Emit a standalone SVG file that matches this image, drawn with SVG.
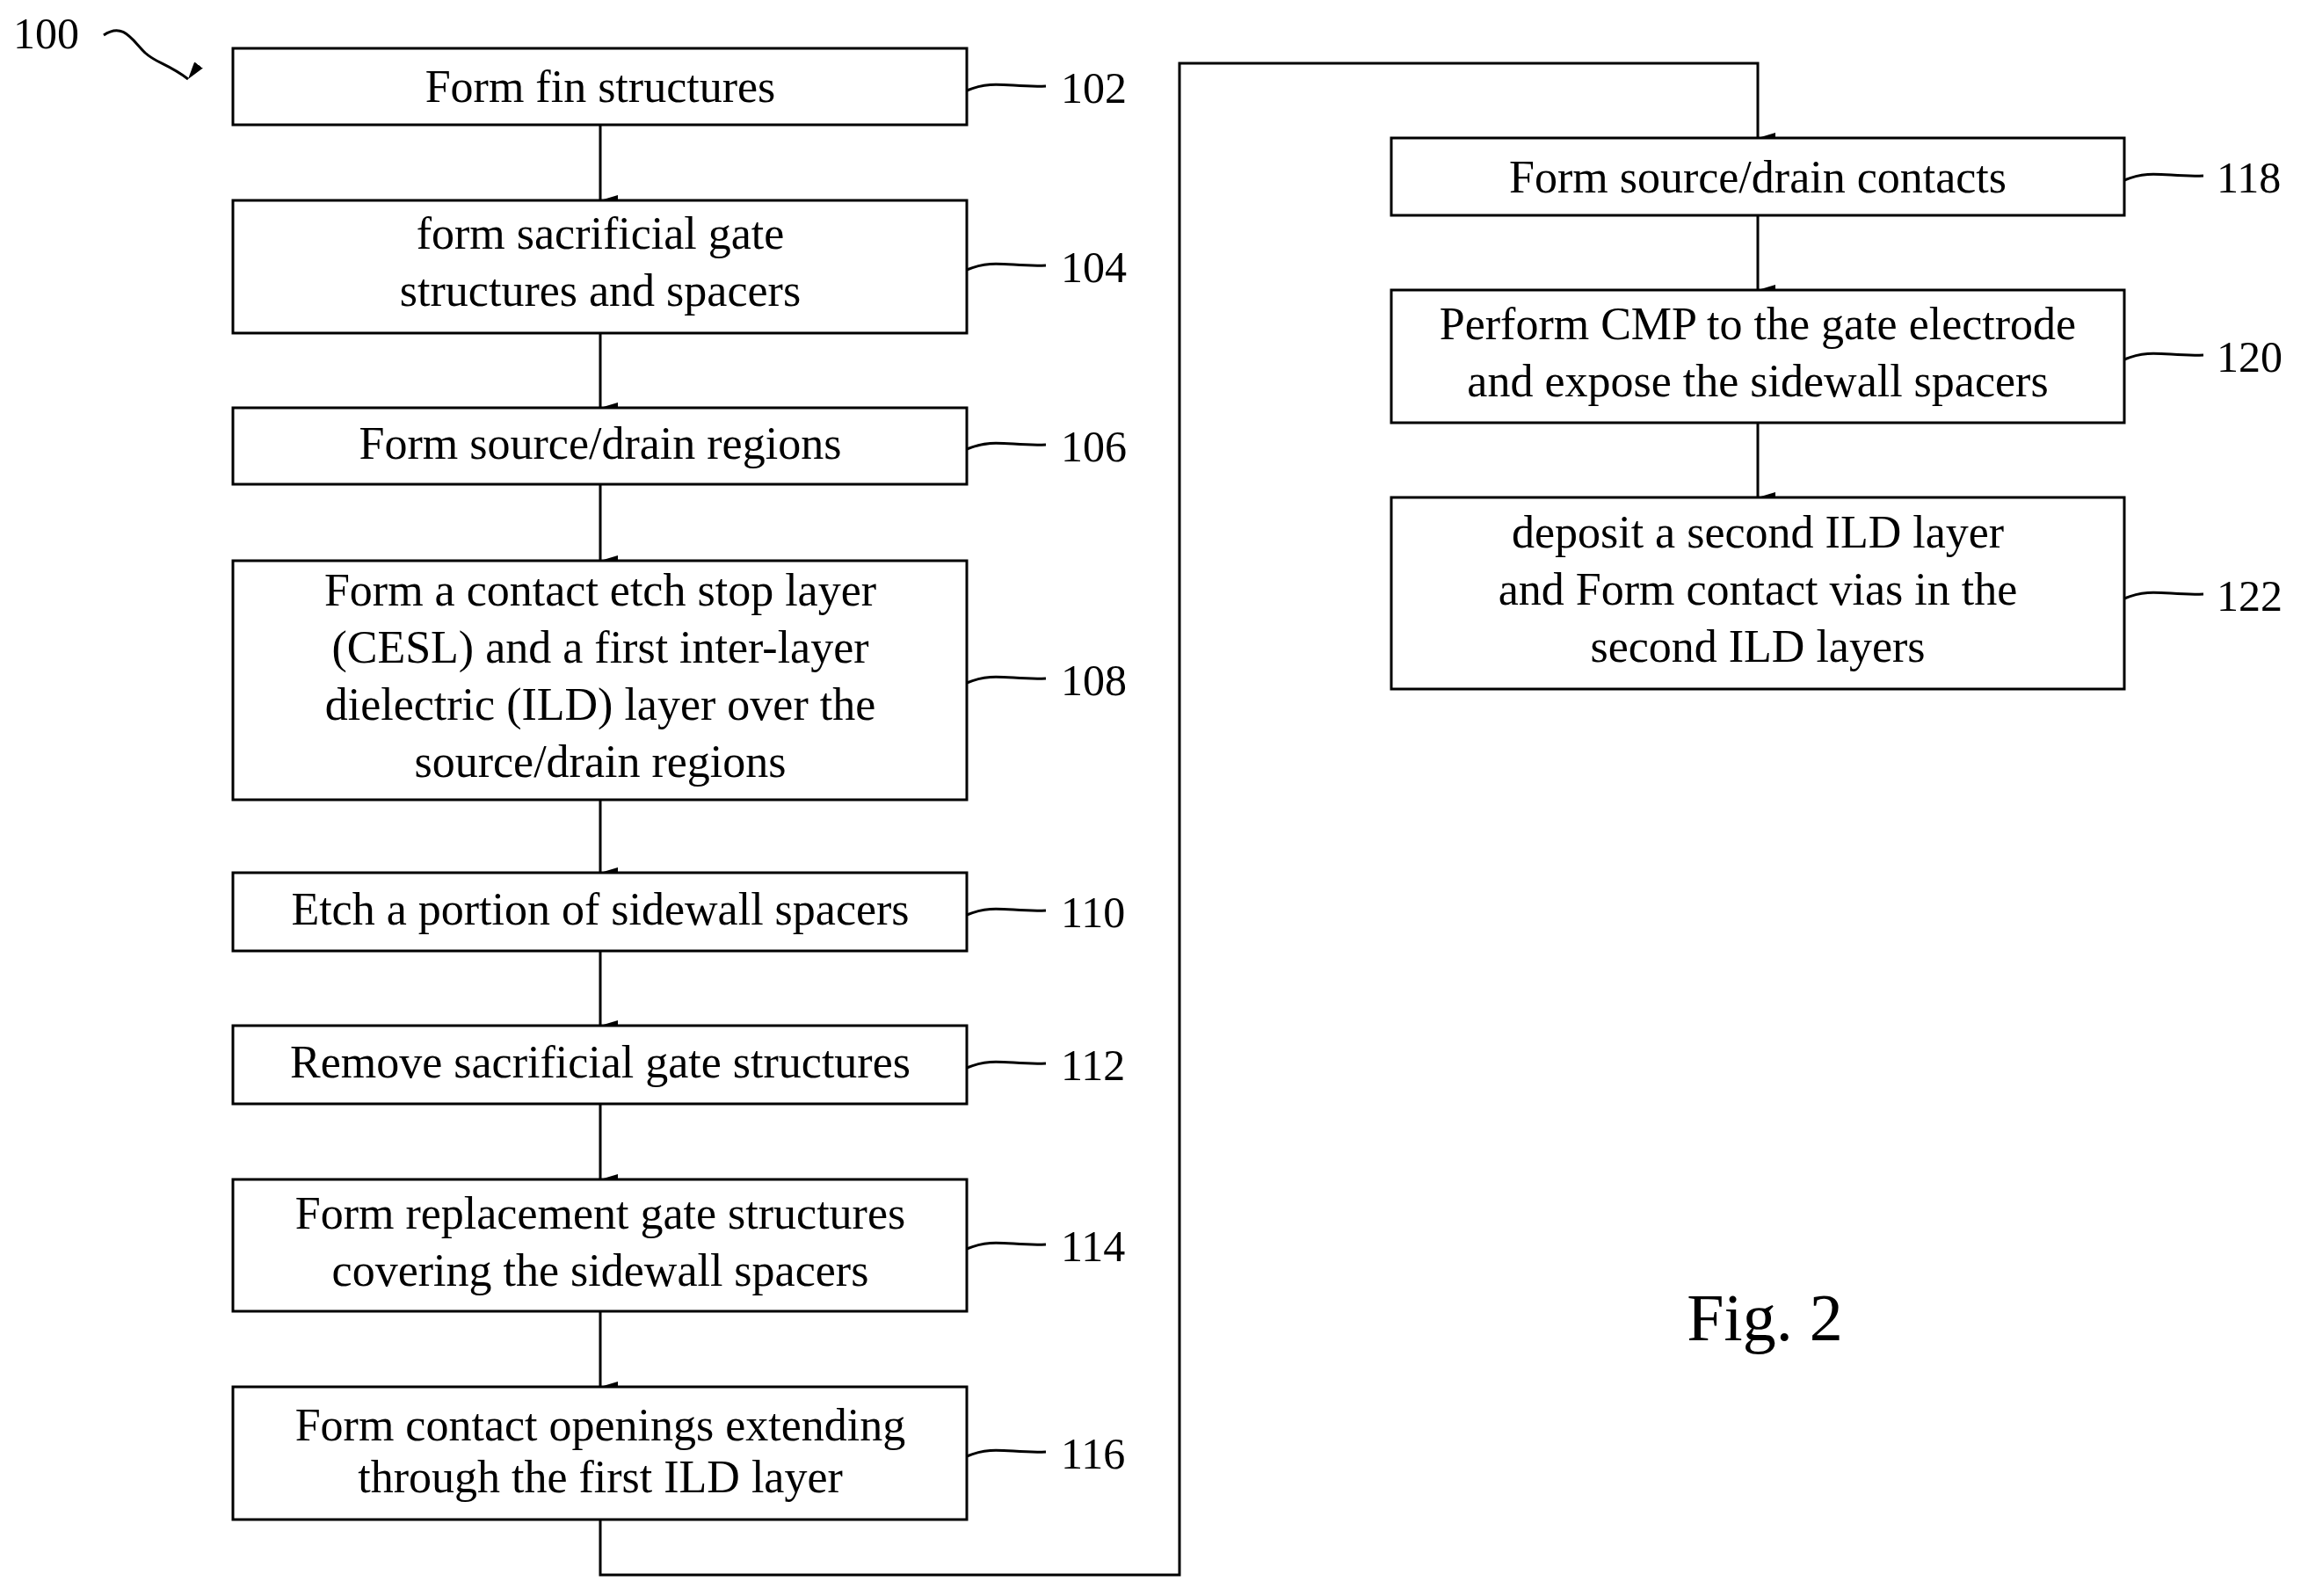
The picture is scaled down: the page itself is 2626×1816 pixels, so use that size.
<svg xmlns="http://www.w3.org/2000/svg" width="2626" height="1816" viewBox="0 0 2626 1816">
<defs>
<style>
rect{fill:#fff;stroke:#000;stroke-width:3}
text{font-family:"Liberation Serif",serif;font-size:52px;fill:#000;text-anchor:middle}
.n{text-anchor:start;font-size:50px}
.c{fill:none;stroke:#000;stroke-width:3}
</style>
<marker id="a" markerWidth="12" markerHeight="20" refX="6" refY="20" orient="auto" markerUnits="userSpaceOnUse" viewBox="0 0 12 20"><path d="M0,0 L6,20 L12,0 Z" fill="#000"/></marker>
</defs>
<rect width="2626" height="1816" style="fill:#fff;stroke:none"/>
<g id="label100"><text class="n" x="15" y="55">100</text><path class="c" d="M118,40 C140,25 150,45 165,60 C178,72 190,72 214,90" marker-end="url(#a)"/></g>
<g id="connectors">
<path class="c" d="M683,142 V228" marker-end="url(#a)"/>
<path class="c" d="M683,379 V464" marker-end="url(#a)"/>
<path class="c" d="M683,551 V638" marker-end="url(#a)"/>
<path class="c" d="M683,910 V993" marker-end="url(#a)"/>
<path class="c" d="M683,1082 V1167" marker-end="url(#a)"/>
<path class="c" d="M683,1256 V1342" marker-end="url(#a)"/>
<path class="c" d="M683,1492 V1578" marker-end="url(#a)"/>
<path class="c" d="M683,1729 V1792 H1342 V72 H2000 V157" marker-end="url(#a)"/>
<path class="c" d="M2000,245 V330" marker-end="url(#a)"/>
<path class="c" d="M2000,481 V566" marker-end="url(#a)"/>
</g>
<g id="n102"><rect x="265" y="55" width="835" height="87"/><text x="683" y="116">Form fin structures</text><path class="c" d="M1100,103 C1130,90 1150,100 1190,98"/><text class="n" x="1207" y="117">102</text></g>
<g id="n104"><rect x="265" y="228" width="835" height="151"/><text x="683" y="283">form sacrificial gate</text><text x="683" y="348">structures and spacers</text><path class="c" d="M1100,307 C1130,294 1150,304 1190,302"/><text class="n" x="1207" y="321">104</text></g>
<g id="n106"><rect x="265" y="464" width="835" height="87"/><text x="683" y="522">Form source/drain regions</text><path class="c" d="M1100,511 C1130,498 1150,508 1190,506"/><text class="n" x="1207" y="525">106</text></g>
<g id="n108"><rect x="265" y="638" width="835" height="272"/><text x="683" y="689">Form a contact etch stop layer</text><text x="683" y="754">(CESL) and a first inter-layer</text><text x="683" y="819">dielectric (ILD) layer over the</text><text x="683" y="884">source/drain regions</text><path class="c" d="M1100,777 C1130,764 1150,774 1190,772"/><text class="n" x="1207" y="791">108</text></g>
<g id="n110"><rect x="265" y="993" width="835" height="89"/><text x="683" y="1052">Etch a portion of sidewall spacers</text><path class="c" d="M1100,1041 C1130,1028 1150,1038 1190,1036"/><text class="n" x="1207" y="1055">110</text></g>
<g id="n112"><rect x="265" y="1167" width="835" height="89"/><text x="683" y="1226">Remove sacrificial gate structures</text><path class="c" d="M1100,1215 C1130,1202 1150,1212 1190,1210"/><text class="n" x="1207" y="1229">112</text></g>
<g id="n114"><rect x="265" y="1342" width="835" height="150"/><text x="683" y="1398">Form replacement gate structures</text><text x="683" y="1463">covering the sidewall spacers</text><path class="c" d="M1100,1421 C1130,1408 1150,1418 1190,1416"/><text class="n" x="1207" y="1435">114</text></g>
<g id="n116"><rect x="265" y="1578" width="835" height="151"/><text x="683" y="1639">Form contact openings extending</text><text x="683" y="1698">through the first ILD layer</text><path class="c" d="M1100,1657 C1130,1644 1150,1654 1190,1652"/><text class="n" x="1207" y="1671">116</text></g>
<g id="n118"><rect x="1583" y="157" width="834" height="88"/><text x="2000" y="219">Form source/drain contacts</text><path class="c" d="M2417,205 C2447,192 2467,202 2507,200"/><text class="n" x="2522" y="219">118</text></g>
<g id="n120"><rect x="1583" y="330" width="834" height="151"/><text x="2000" y="386">Perform CMP to the gate electrode</text><text x="2000" y="451">and expose the sidewall spacers</text><path class="c" d="M2417,409 C2447,396 2467,406 2507,404"/><text class="n" x="2522" y="423">120</text></g>
<g id="n122"><rect x="1583" y="566" width="834" height="218"/><text x="2000" y="623">deposit a second ILD layer</text><text x="2000" y="688">and Form contact vias in the</text><text x="2000" y="753">second ILD layers</text><path class="c" d="M2417,681 C2447,668 2467,678 2507,676"/><text class="n" x="2522" y="695">122</text></g>
<g id="fig"><text x="2008" y="1525" style="font-size:76px">Fig. 2</text></g>
</svg>
